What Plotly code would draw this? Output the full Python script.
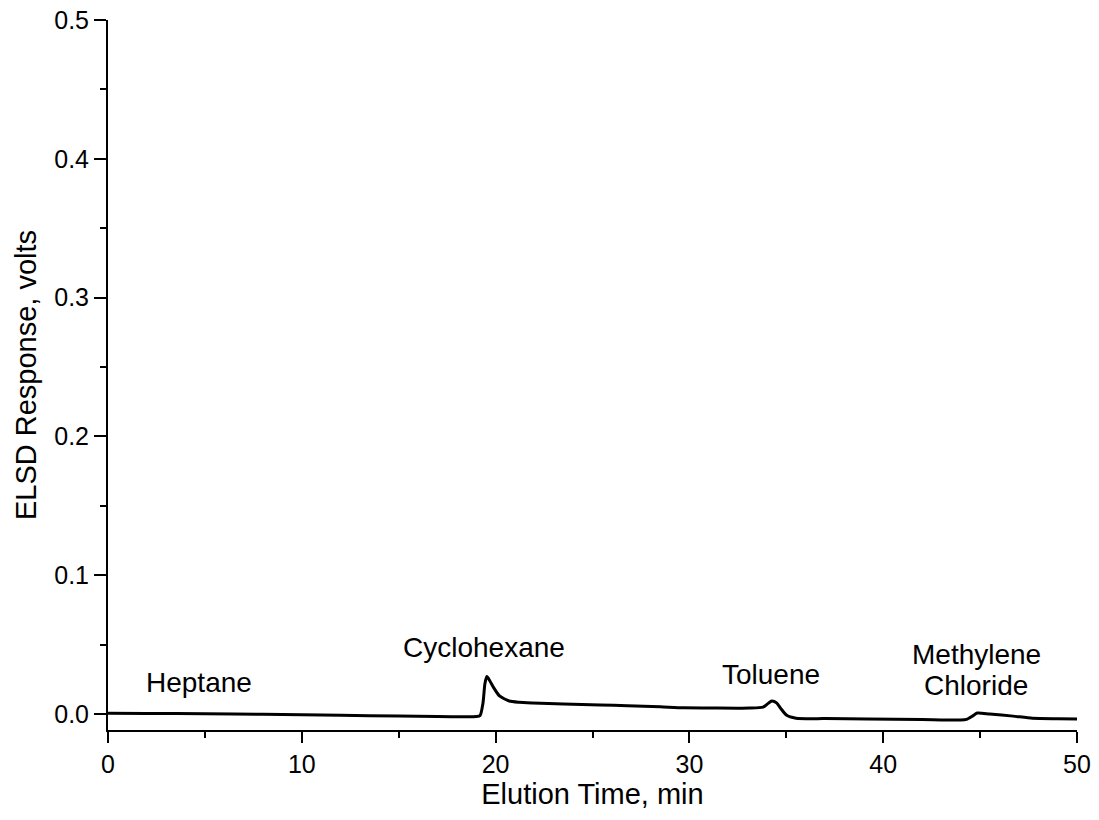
import plotly.graph_objects as go

# Chromatogram trace
time_min = [0, 2, 5, 8, 10, 12, 15, 17, 18.5, 19.0, 19.2, 19.35, 19.45, 19.55, 19.7, 19.9,
            20.2, 20.7, 21.2, 21.9, 23.5, 25.4, 26.8, 28.5, 29.7, 31.0, 33.1, 33.8, 34.05,
            34.25, 34.5, 34.7, 35.0, 35.5, 37.0, 39.2, 42.0, 44.0, 44.3, 44.6, 44.85, 45.5,
            46.7, 47.7, 49.0, 50.0]
response_v = [0.0006, 0.0004, 0.0002, -0.0002, -0.0005, -0.0008, -0.0015, -0.0018, -0.002, -0.0018,
              -0.001, 0.008, 0.022, 0.027, 0.024, 0.019, 0.013, 0.0094, 0.0085, 0.008, 0.0072,
              0.0065, 0.006, 0.0052, 0.0045, 0.0044, 0.0043, 0.005, 0.0075, 0.0094, 0.008,
              0.0043, -0.0007, -0.003, -0.0033, -0.0036, -0.004, -0.0043, -0.0038, -0.0015,
              0.0007, 0.0, -0.0015, -0.003, -0.0034, -0.0036]

# Peak labels
label_text = ["Heptane", "Cyclohexane", "Toluene", "Methylene", "Chloride"]
label_x = [4.7, 19.4, 34.2, 44.8, 44.8]
label_y = [0.023, 0.0476, 0.0288, 0.0432, 0.0208]

x_ticks = [0, 10, 20, 30, 40, 50]
y_ticks = [0.0, 0.1, 0.2, 0.3, 0.4, 0.5]

FONT = "Liberation Sans, Arial, Helvetica, sans-serif"

fig = go.Figure()
fig.add_trace(go.Scatter(x=time_min, y=response_v, mode="lines",
                         line=dict(color="black", width=3, shape="spline", smoothing=0.6),
                         showlegend=False, hoverinfo="skip"))

for t, x, y in zip(label_text, label_x, label_y):
    fig.add_annotation(x=x, y=y, text=t, showarrow=False, xanchor="center", yanchor="middle",
                       font=dict(family=FONT, size=28, color="black"))

fig.update_layout(
    width=1099, height=820,
    margin=dict(l=108, r=22, t=20, b=90),
    paper_bgcolor="white", plot_bgcolor="white",
    font=dict(family=FONT, color="black"),
)
fig.update_xaxes(
    range=[0, 50], tickvals=x_ticks, ticktext=[str(v) for v in x_ticks], automargin=False,
    ticklabeloverflow="allow",
    showgrid=False, zeroline=False, showline=True, linecolor="black", linewidth=2,
    ticks="outside", ticklen=11, tickwidth=2, tickcolor="black",
    minor=dict(ticks="outside", ticklen=6, tickwidth=2, tickcolor="black", dtick=5),
    tickfont=dict(size=25, family=FONT), title=dict(text="Elution Time, min",
                                                    font=dict(size=29, family=FONT), standoff=7),
)
fig.update_yaxes(
    range=[-0.0115, 0.5], tickvals=y_ticks, ticktext=[f"{v:.1f}" for v in y_ticks], automargin=False,
    ticklabeloverflow="allow",
    showgrid=False, zeroline=False, showline=True, linecolor="black", linewidth=2,
    ticks="outside", ticklen=12, tickwidth=2, tickcolor="black",
    minor=dict(ticks="outside", ticklen=6, tickwidth=2, tickcolor="black", dtick=0.05, tick0=0),
    tickfont=dict(size=25, family=FONT), title=dict(text="ELSD Response, volts",
                                                    font=dict(size=29, family=FONT), standoff=9),
)

# remove the page's default 8px body margin so the figure fills the window exactly
fig.write_html("out.html", config={"displayModeBar": False},
               post_script="document.body.style.margin='0px';")
